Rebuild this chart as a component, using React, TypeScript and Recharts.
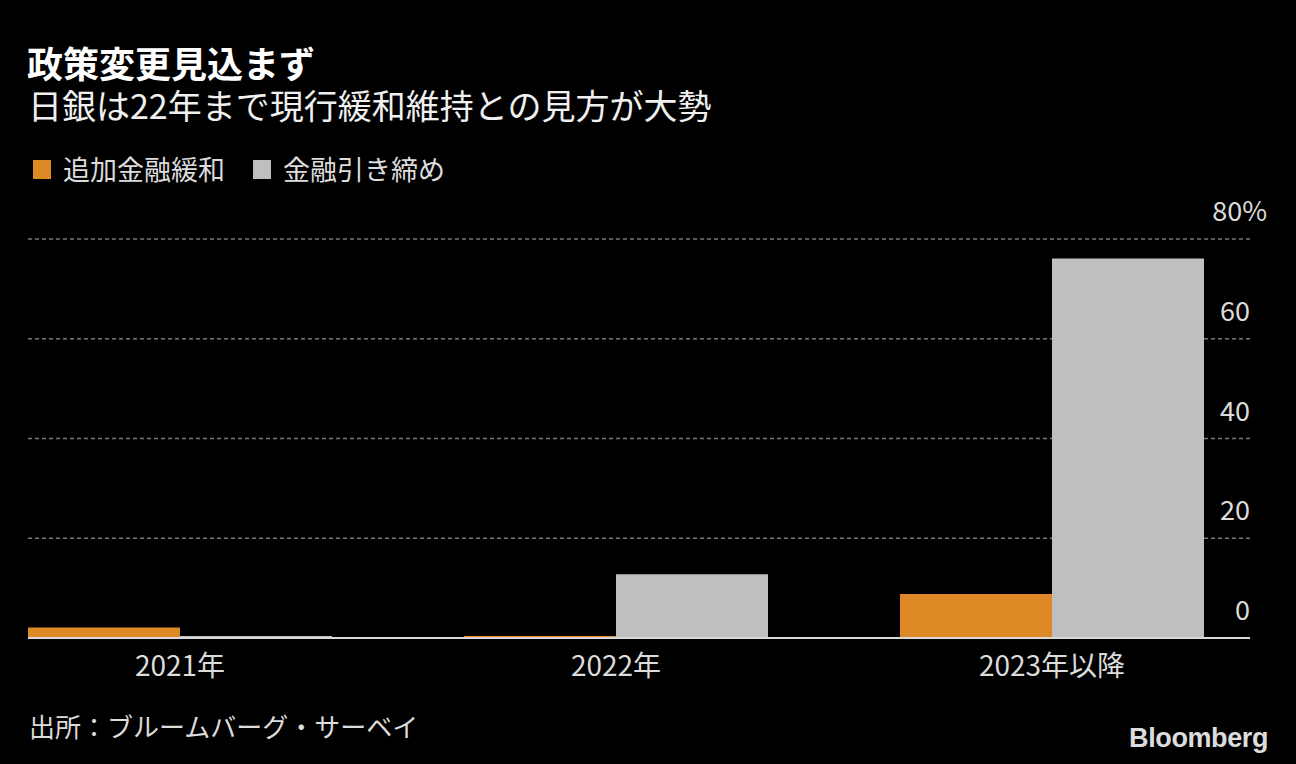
import React from 'react';
import { BarChart, Bar, XAxis, YAxis, CartesianGrid } from 'recharts';

// Bloomberg survey: when will the BOJ change policy
const categories = ['2021年', '2022年', '2023年以降'];
const easing = [2.1, 0.4, 8.8];
const tightening = [0.4, 12.8, 76.1];
const seriesNames = ['追加金融緩和', '金融引き締め'];
const yTicks = [0, 20, 40, 60, 80];

const ORANGE = '#dd8a26';
const GRAY = '#bfbfbf';
const TEXT = '#dcdcdc';
const FONT = '"Noto Sans CJK JP", "Noto Sans", sans-serif';

const data = categories.map((name, i) => ({
  idx: i,
  name,
  easing: easing[i],
  tightening: tightening[i],
}));

function YTick({ x, y, payload }: any) {
  const v = payload.value;
  const isTop = v === yTicks[yTicks.length - 1];
  return (
    <text
      x={isTop ? x + 17 : x}
      y={y - 18}
      textAnchor="end"
      fill={TEXT}
      fontSize={27}
      fontFamily={FONT}
    >
      {isTop ? `${v}%` : v}
    </text>
  );
}

function XTick({ x, y, payload }: any) {
  return (
    <text
      x={x}
      y={y + 38}
      textAnchor="middle"
      fill={TEXT}
      fontSize={28}
      fontFamily={FONT}
    >
      {categories[payload.value]}
    </text>
  );
}

export default function App() {
  return (
    <div
      style={{
        position: 'absolute',
        left: 0,
        top: 0,
        width: 1296,
        height: 764,
        background: '#000',
        fontFamily: FONT,
        overflow: 'hidden',
      }}
    >
      <div
        style={{
          position: 'absolute',
          left: 27,
          top: 44,
          fontSize: 36,
          lineHeight: '36px',
          height: 36,
          fontWeight: 700,
          color: '#fff',
          whiteSpace: 'nowrap',
        }}
      >
        政策変更見込まず
      </div>
      <div
        style={{
          position: 'absolute',
          left: 28,
          top: 88,
          fontSize: 34,
          lineHeight: '34px',
          color: '#f0f0f0',
          whiteSpace: 'nowrap',
        }}
      >
        日銀は22年まで現行緩和維持との見方が大勢
      </div>

      <div
        style={{
          position: 'absolute',
          left: 33,
          top: 153,
          display: 'flex',
          alignItems: 'center',
          fontSize: 27,
          lineHeight: '32px',
          color: TEXT,
          whiteSpace: 'nowrap',
        }}
      >
        {seriesNames.map((n, i) => (
          <div key={n} style={{ display: 'flex', alignItems: 'center', marginRight: 28 }}>
            <span
              style={{
                display: 'inline-block',
                width: 18,
                height: 19,
                background: i === 0 ? ORANGE : GRAY,
                marginRight: 12,
              }}
            />
            <span>{n}</span>
          </div>
        ))}
      </div>

      <div style={{ position: 'absolute', left: 0, top: 0 }}>
        <BarChart
          width={1296}
          height={764}
          data={data}
          margin={{ top: 239, right: 0, bottom: 86, left: 28 }}
          barGap={0}
        >
          <CartesianGrid
            vertical={false}
            stroke="#7a7a7a"
            strokeDasharray="4 3"
            strokeWidth={1.5}
          />
          <XAxis
            dataKey="idx"
            type="number"
            domain={[-0.3486, 2.4541]}
            ticks={[0, 1, 2]}
            allowDataOverflow
            height={40}
            tickLine={false}
            tickSize={0}
            tickMargin={0}
            tick={<XTick />}
            axisLine={{ stroke: '#d8d8d8', strokeWidth: 2 }}
          />
          <YAxis
            orientation="right"
            domain={[0, 80]}
            ticks={yTicks}
            width={46}
            interval={0}
            axisLine={false}
            tickLine={false}
            tickSize={0}
            tickMargin={0}
            tick={<YTick />}
          />
          <Bar dataKey="easing" fill={ORANGE} barSize={152} isAnimationActive={false} />
          <Bar dataKey="tightening" fill={GRAY} barSize={152} isAnimationActive={false} />
        </BarChart>
      </div>

      <div
        style={{
          position: 'absolute',
          left: 29,
          top: 711,
          fontSize: 26,
          lineHeight: '30px',
          color: TEXT,
          whiteSpace: 'nowrap',
        }}
      >
        出所：ブルームバーグ・サーベイ
      </div>
      <div
        style={{
          position: 'absolute',
          right: 28,
          top: 721,
          fontFamily: '"Liberation Sans", Arial, sans-serif',
          fontWeight: 700,
          fontSize: 27,
          lineHeight: '34px',
          letterSpacing: -0.4,
          color: '#dcdcdc',
        }}
      >
        Bloomberg
      </div>
    </div>
  );
}
